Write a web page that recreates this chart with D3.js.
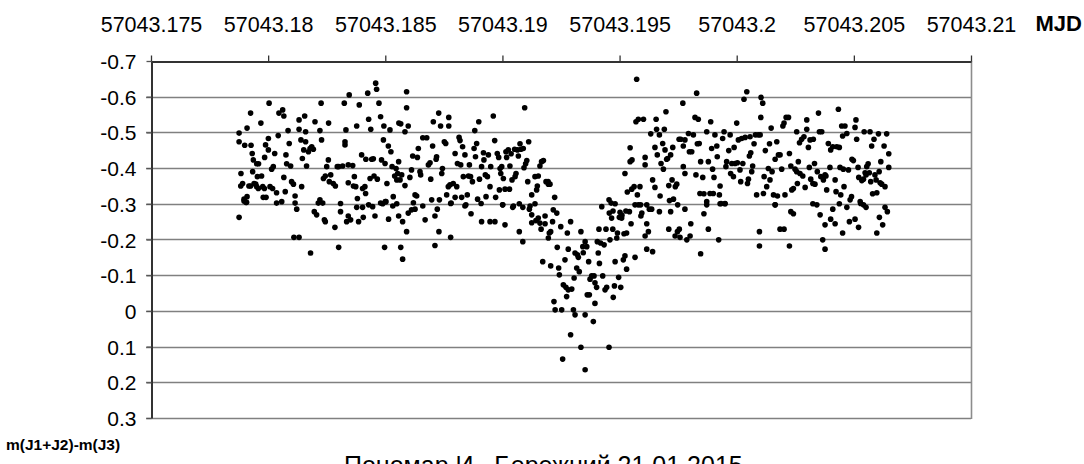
<!DOCTYPE html>
<html>
<head>
<meta charset="utf-8">
<script src="https://cdn.jsdelivr.net/npm/d3@7"></script>
<style>
  html, body { margin: 0; padding: 0; background: #fff; overflow: hidden; }
  svg { display: block; font-family: "Liberation Sans", Arial, sans-serif; }
</style>
</head>
<body>
<svg id="chart" width="1084" height="464"></svg>
<script>
// Differential photometry, night of 21.01.2015
const MJD_BASE = 57043;

const xTicks = [57043.175, 57043.18, 57043.185, 57043.19, 57043.195, 57043.2, 57043.205, 57043.21];
const xTickLabels = ["57043.175", "57043.18", "57043.185", "57043.19", "57043.195", "57043.2", "57043.205", "57043.21"];
const yTicks = [-0.7, -0.6, -0.5, -0.4, -0.3, -0.2, -0.1, 0, 0.1, 0.2, 0.3];
const yTickLabels = ["-0.7", "-0.6", "-0.5", "-0.4", "-0.3", "-0.2", "-0.1", "0", "0.1", "0.2", "0.3"];

const xTitle = "MJD";
const yTitle = "m(J1+J2)-m(J3)";
const footer = "Пономар И., Бережний 21.01.2015";

// [MJD - 57043, m(J1+J2)-m(J3)]
const observations = [
  [.17876,-.498],[.17876,-.474],[.17884,-.385],[.17883,-.350],[.17891,-.357],[.17897,-.313],[.17905,-.304],[.17910,-.320],
  [.17900,-.464],[.17910,-.512],[.17925,-.554],[.17927,-.464],[.17932,-.441],[.17937,-.423],[.17934,-.390],[.17918,-.350],
  [.17925,-.350],[.17940,-.357],[.17947,-.355],[.17951,-.348],[.17958,-.343],[.17954,-.376],[.17951,-.412],[.17959,-.412],
  [.17969,-.526],[.17972,-.378],[.17977,-.348],[.17984,-.343],[.17985,-.430],[.17991,-.318],[.17979,-.318],[.18004,-.582],
  [.18001,-.483],[.18001,-.451],[.17989,-.465],[.18008,-.348],[.18015,-.397],[.18022,-.404],[.18019,-.343],[.18028,-.441],
  [.18036,-.331],[.18043,-.491],[.18046,-.554],[.18062,-.563],[.18067,-.546],[.18067,-.374],[.18073,-.334],[.18076,-.437],
  [.18079,-.412],[.18085,-.505],[.18090,-.469],[.18096,-.406],[.18100,-.362],[.18108,-.355],[.18115,-.322],[.18132,-.535],
  [.18132,-.509],[.18140,-.479],[.18143,-.348],[.18146,-.427],[.18152,-.451],[.18156,-.546],[.18160,-.502],[.18160,-.474],
  [.18164,-.406],[.18172,-.446],[.18179,-.455],[.18186,-.460],[.18193,-.453],[.18200,-.530],[.18221,-.311],[.18226,-.582],
  [.18221,-.505],[.18228,-.479],[.18236,-.371],[.18244,-.378],[.18250,-.404],[.18257,-.423],[.18258,-.526],[.18261,-.362],
  [.18267,-.381],[.18278,-.357],[.18287,-.350],[.18295,-.404],[.18301,-.404],[.18309,-.301],[.18318,-.406],[.18325,-.582],
  [.18328,-.474],[.18328,-.465],[.18332,-.507],[.18342,-.359],[.18342,-.409],[.18346,-.605],[.18361,-.407],[.18364,-.350],
  [.18368,-.376],[.18374,-.348],[.18378,-.518],[.18381,-.315],[.18389,-.577],[.18399,-.437],[.18403,-.343],[.18413,-.348],
  [.18416,-.329],[.18417,-.425],[.18425,-.610],[.18429,-.537],[.18435,-.371],[.18438,-.509],[.18442,-.425],[.18449,-.426],
  [.18452,-.378],[.18459,-.638],[.18463,-.621],[.18466,-.369],[.18473,-.582],[.18480,-.544],[.18484,-.423],[.18489,-.300],
  [.18492,-.479],[.18494,-.518],[.18499,-.413],[.18503,-.306],[.18507,-.357],[.18513,-.462],[.18520,-.507],[.18524,-.446],
  [.18529,-.404],[.18534,-.320],[.18540,-.378],[.18546,-.399],[.18549,-.367],[.18553,-.385],[.18557,-.418],[.18558,-.526],
  [.17876,-.262],[.17897,-.308],[.17908,-.304],[.18036,-.302],[.18058,-.306],[.18115,-.302],[.18122,-.285],[.18110,-.206],
  [.18132,-.206],[.18181,-.162],[.18197,-.278],[.18207,-.269],[.18214,-.302],[.18233,-.302],[.18240,-.255],[.18244,-.250],
  [.18285,-.234],[.18301,-.178],[.18309,-.278],[.18335,-.250],[.18342,-.266],[.18352,-.255],[.18378,-.290],[.18386,-.250],
  [.18403,-.290],[.18406,-.262],[.18429,-.297],[.18446,-.292],[.18456,-.266],[.18480,-.302],[.18497,-.178],[.18500,-.306],
  [.18514,-.257],[.18532,-.294],[.18549,-.300],[.18557,-.266],[.18566,-.178],[.18574,-.145],[.18574,-.250],[.18591,-.222],
  [.18598,-.274],[.18612,-.283],[.18627,-.285],[.18660,-.294],[.18670,-.255],[.18712,-.266],[.18712,-.183],[.18722,-.285],
  [.18729,-.222],[.18779,-.206],[.18781,-.302],[.18840,-.294],[.18866,-.272],
  [.18566,-.524],[.18584,-.502],[.18591,-.614],[.18591,-.569],[.18598,-.518],[.18563,-.367],[.18570,-.381],[.18584,-.351],
  [.18605,-.374],[.18612,-.395],[.18617,-.434],[.18620,-.303],[.18627,-.325],[.18634,-.322],[.18637,-.430],[.18641,-.455],
  [.18648,-.390],[.18651,-.381],[.18660,-.485],[.18677,-.485],[.18684,-.409],[.18691,-.415],[.18694,-.369],[.18698,-.311],
  [.18702,-.462],[.18705,-.530],[.18717,-.425],[.18719,-.432],[.18728,-.554],[.18731,-.311],[.18736,-.518],[.18741,-.385],
  [.18744,-.399],[.18752,-.474],[.18758,-.469],[.18762,-.325],[.18769,-.348],[.18771,-.542],[.18771,-.518],[.18776,-.353],
  [.18779,-.301],[.18790,-.357],[.18798,-.441],[.18798,-.318],[.18805,-.348],[.18808,-.413],[.18815,-.486],[.18819,-.477],
  [.18822,-.409],[.18826,-.318],[.18830,-.460],[.18833,-.376],[.18840,-.437],[.18844,-.297],[.18850,-.325],[.18855,-.378],
  [.18859,-.409],[.18864,-.376],[.18872,-.362],[.18879,-.455],[.18882,-.505],[.18885,-.432],[.18890,-.469],[.18894,-.313],
  [.18899,-.530],[.18902,-.369],[.18909,-.301],[.18911,-.404],[.18919,-.443],[.18921,-.423],[.18927,-.381],[.18930,-.320],
  [.18936,-.376],[.18940,-.437],[.18947,-.348],[.18950,-.404],[.18961,-.546],[.18967,-.477],[.18971,-.318],[.18978,-.441],
  [.18984,-.430],[.18987,-.339],[.18990,-.399],[.18993,-.385],[.18997,-.404],[.19001,-.297],[.19004,-.371],[.19011,-.341],
  [.19015,-.446],[.19018,-.430],[.19025,-.451],[.19030,-.341],[.19032,-.406],[.19037,-.440],[.19041,-.367],[.19047,-.294],
  [.19052,-.453],[.19054,-.376],[.19058,-.385],[.19064,-.451],[.19068,-.434],[.19075,-.468],[.19079,-.453],[.19089,-.455],
  [.19092,-.401],[.19095,-.569],[.19099,-.412],[.19104,-.421],[.19108,-.362],[.19112,-.474],[.19118,-.294],[.19125,-.325],
  [.19139,-.376],[.19146,-.339],[.19149,-.350],[.19153,-.378],[.19160,-.406],[.19167,-.418],[.19175,-.421],[.19186,-.362],
  [.19195,-.362],[.19196,-.355],[.19203,-.355],[.19223,-.318],
  [.19523,-.385],[.19533,-.333],[.19545,-.457],[.19545,-.418],[.19553,-.423],[.19552,-.341],[.19562,-.348],[.19570,-.530],
  [.19573,-.649],[.19576,-.325],[.19580,-.537],[.19587,-.348],[.19590,-.297],[.19602,-.537],[.19609,-.430],[.19609,-.409],
  [.19616,-.297],[.19633,-.496],[.19641,-.367],[.19651,-.346],[.19651,-.458],[.19656,-.537],[.19658,-.509],[.19661,-.437],
  [.19670,-.493],[.19673,-.322],[.19677,-.413],[.19684,-.469],[.19687,-.397],[.19691,-.509],[.19694,-.451],[.19698,-.558],
  [.19701,-.425],[.19705,-.427],[.19710,-.351],[.19713,-.309],[.19718,-.437],[.19724,-.367],[.19727,-.458],[.19730,-.313],
  [.19738,-.348],[.19744,-.355],[.19748,-.297],[.19754,-.481],
  [.19770,-.582],[.19761,-.481],[.19772,-.462],[.19779,-.479],[.19772,-.404],[.19779,-.385],[.19794,-.497],[.19798,-.446],
  [.19808,-.446],[.19815,-.493],[.19822,-.542],[.19826,-.381],[.19829,-.610],[.19832,-.468],[.19836,-.537],[.19840,-.469],
  [.19843,-.329],[.19846,-.418],[.19855,-.374],[.19860,-.328],[.19872,-.502],[.19872,-.306],[.19879,-.418],[.19886,-.329],
  [.19889,-.530],[.19893,-.455],[.19897,-.397],[.19900,-.329],[.19903,-.374],[.19907,-.493],[.19915,-.462],[.19917,-.432],
  [.19926,-.325],[.19929,-.350],[.19933,-.301],[.19940,-.483],[.19946,-.502],[.19950,-.301],[.19954,-.404],[.19957,-.418],
  [.19966,-.449],[.19972,-.493],[.19974,-.385],[.19979,-.413],[.19986,-.376],[.19989,-.458],[.19993,-.413],[.20000,-.526],
  [.20003,-.415],[.20007,-.479],[.20014,-.395],[.20017,-.362],[.20021,-.483],[.20026,-.413],[.20031,-.593],[.20036,-.486],
  [.20043,-.614],[.20046,-.357],[.20050,-.369],[.20054,-.434],[.20057,-.488],[.20060,-.443],[.20064,-.390],[.20068,-.406],
  [.20074,-.468],[.20080,-.493],[.20085,-.325],[.20092,-.493],[.20100,-.493],[.20103,-.542],[.20104,-.598],[.20111,-.582],
  [.20114,-.329],[.20117,-.376],[.20122,-.449],[.20128,-.348],[.20135,-.399],[.20140,-.468],[.20142,-.367],[.20147,-.512],
  [.20151,-.390],[.20157,-.325],[.20164,-.297],[.20164,-.425],[.20171,-.474],[.20174,-.322],[.20178,-.437],[.20185,-.437],
  [.20192,-.397],[.20197,-.518],[.20202,-.526],[.20206,-.325],[.20211,-.542],[.20221,-.542],[.20225,-.441],[.20231,-.406],
  [.20235,-.339],[.20242,-.343],[.20249,-.397],[.20256,-.390],[.20256,-.502],[.20259,-.357],[.20263,-.418],[.20268,-.471],
  [.20270,-.385],[.20277,-.481],[.20282,-.378],[.20287,-.488],[.20292,-.346],[.20299,-.535],[.20299,-.509],[.20306,-.458],
  [.20310,-.402],[.20313,-.479],[.20316,-.369],[.20325,-.357],[.20327,-.481],[.20332,-.413],[.20334,-.355],[.20344,-.390],
  [.20349,-.554],[.20353,-.502],[.20359,-.376],[.20363,-.502],[.20370,-.367],[.20377,-.381],[.20381,-.378],[.20384,-.339],
  [.20391,-.469],[.20398,-.402],[.20401,-.451],[.20410,-.460],[.20420,-.367],[.20424,-.334],[.20427,-.460],[.20434,-.565],
  [.20438,-.458],[.20441,-.402],[.20444,-.325],[.20448,-.518],[.20452,-.490],[.20455,-.397],[.20458,-.348],[.20462,-.518],
  [.20470,-.497],[.20477,-.395],[.20484,-.311],[.20490,-.320],[.20492,-.425],[.20498,-.421],[.20505,-.514],[.20509,-.535],
  [.20512,-.481],[.20518,-.402],[.20521,-.374],[.20527,-.306],[.20529,-.301],[.20534,-.365],[.20541,-.369],[.20544,-.502],
  [.20548,-.387],[.20552,-.381],[.20555,-.404],[.20561,-.412],[.20566,-.387],[.20569,-.502],[.20572,-.362],[.20576,-.462],
  [.20580,-.328],[.20586,-.481],[.20590,-.381],[.20595,-.367],[.20598,-.331],[.20605,-.496],[.20608,-.390],[.20612,-.359],
  [.20615,-.418],[.20619,-.355],[.20629,-.462],[.20633,-.348],[.20640,-.496],[.20649,-.440],[.20649,-.402],
  [.18911,-.250],[.18947,-.250],[.18968,-.250],[.19001,-.297],[.19011,-.241],[.19044,-.290],[.19072,-.300],[.19072,-.222],
  [.19087,-.290],[.19087,-.194],[.19115,-.285],[.19125,-.269],[.19125,-.247],[.19139,-.300],[.19143,-.253],[.19153,-.260],
  [.19160,-.246],[.19165,-.229],[.19172,-.138],[.19182,-.266],[.19182,-.244],[.19196,-.204],[.19200,-.218],[.19206,-.222],
  [.19206,-.126],[.19214,-.250],[.19217,-.283],[.19220,-.026],[.19225,-.003],[.19232,-.274],[.19234,-.178],[.19240,-.120],
  [.19243,-.101],[.19249,-.236],[.19253,-.003],[.19257,.135],[.19260,-.073],[.19267,-.143],[.19271,-.066],[.19274,-.040],
  [.19277,-.218],[.19281,-.173],[.19281,-.059],[.19291,-.250],[.19291,.067],[.19296,-.061],[.19303,-.003],[.19306,-.092],
  [.19310,-.162],[.19310,.011],[.19317,-.120],[.19320,-.157],[.19324,-.150],[.19328,-.110],[.19335,-.222],[.19335,.102],
  [.19343,-.180],[.19345,-.163],[.19353,.011],[.19353,-.194],[.19353,.165],[.19360,-.180],[.19362,-.045],[.19368,-.138],
  [.19371,-.045],[.19374,-.089],[.19381,-.098],[.19388,.030],[.19391,-.098],[.19395,-.079],[.19395,-.021],[.19402,-.066],
  [.19405,-.194],[.19409,-.162],[.19412,-.229],[.19414,-.133],[.19419,-.190],[.19424,-.292],[.19428,-.098],[.19434,-.185],
  [.19438,-.059],[.19442,-.229],[.19445,-.066],[.19455,.102],[.19456,-.274],[.19459,-.199],[.19466,-.260],[.19471,-.229],
  [.19473,-.038],[.19478,-.070],[.19481,-.138],[.19481,-.300],[.19488,-.204],[.19491,-.218],[.19496,-.094],[.19499,-.262],
  [.19505,-.066],[.19509,-.260],[.19516,-.143],[.19519,-.216],[.19523,-.154],[.19530,-.218],[.19530,-.117],[.19542,-.278],
  [.19549,-.244],[.19566,-.150],[.19566,-.297],[.19580,-.297],[.19591,-.266],[.19595,-.274],[.19609,-.210],[.19616,-.244],
  [.19616,-.173],[.19623,-.222],[.19627,-.285],[.19637,-.285],[.19641,-.166],[.19670,-.278],[.19710,-.229],[.19718,-.278],
  [.19737,-.210],[.19747,-.222],[.19755,-.229],[.19758,-.206],[.19779,-.285],[.19787,-.199],[.19801,-.210],[.19804,-.244],
  [.19846,-.160],[.19860,-.272],[.19872,-.297],[.19879,-.229],[.19923,-.199],[.19929,-.300],[.19950,-.300],[.20097,-.222],
  [.20097,-.182],[.20164,-.297],[.20185,-.229],[.20202,-.229],[.20225,-.182],[.20231,-.278],[.20242,-.272],[.20325,-.300],
  [.20342,-.297],[.20356,-.269],[.20367,-.199],[.20377,-.241],[.20377,-.173],[.20401,-.257],[.20410,-.285],[.20420,-.244],
  [.20438,-.300],[.20452,-.218],[.20470,-.290],[.20481,-.250],[.20505,-.257],[.20520,-.234],[.20541,-.297],[.20552,-.290],
  [.20598,-.218],[.20609,-.262],[.20623,-.241],[.20633,-.290],[.20643,-.278],
  [.19455,-.311],[.19464,-.302],[.19472,-.280],[.19502,-.276],[.19510,-.268],[.19527,-.280]
];

const svg = d3.select("#chart");
const plot = { left: 151, right: 971, top: 61, bottom: 418 };

const x = d3.scaleLinear()
  .domain([xTicks[0], xTicks[xTicks.length - 1]])
  .range([plot.left, plot.right]);
const y = d3.scaleLinear()
  .domain([yTicks[0], yTicks[yTicks.length - 1]])
  .range([plot.top, plot.bottom]);

// horizontal gridlines (also serve as outward tick marks on the left)
svg.append("g")
  .selectAll("line")
  .data(yTicks.slice(1))
  .join("line")
  .attr("x1", plot.left - 5)
  .attr("x2", plot.right)
  .attr("y1", d => Math.round(y(d)) + 0.5)
  .attr("y2", d => Math.round(y(d)) + 0.5)
  .attr("stroke", "#808080")
  .attr("stroke-width", 1.6);

// right border
svg.append("line")
  .attr("x1", plot.right + 0.5).attr("x2", plot.right + 0.5)
  .attr("y1", plot.top).attr("y2", plot.bottom + 1)
  .attr("stroke", "#8c8c8c").attr("stroke-width", 1.6);

// top (MJD) axis
const xAxis = d3.axisTop(x)
  .tickValues(xTicks)
  .tickSize(6)
  .tickSizeOuter(0)
  .tickFormat((d, i) => xTickLabels[i]);
const gx = svg.append("g")
  .attr("transform", `translate(0,${plot.top + 0.5})`)
  .call(xAxis);
gx.select(".domain").attr("stroke", "#333").attr("stroke-width", 2);
gx.selectAll(".tick line").attr("stroke", "#333").attr("stroke-width", 1.3);
gx.selectAll(".tick text")
  .attr("y", -30).attr("dy", 0)
  .attr("font-size", 21.5).attr("fill", "#000")
  .attr("font-family", "Liberation Sans, Arial, sans-serif");

// left (magnitude) axis
const yAxis = d3.axisLeft(y)
  .tickValues(yTicks)
  .tickSize(5)
  .tickSizeOuter(0)
  .tickFormat((d, i) => yTickLabels[i]);
const gy = svg.append("g")
  .attr("transform", `translate(${plot.left + 0.5},0)`)
  .call(yAxis);
gy.select(".domain").attr("stroke", "#333").attr("stroke-width", 2);
gy.selectAll(".tick line").attr("stroke", "#555").attr("stroke-width", 1.3);
gy.selectAll(".tick text")
  .attr("x", -15).attr("dy", "0.36em")
  .attr("font-size", 21).attr("fill", "#000")
  .attr("font-family", "Liberation Sans, Arial, sans-serif");

// observations
svg.append("g")
  .selectAll("circle")
  .data(observations)
  .join("circle")
  .attr("cx", d => x(MJD_BASE + d[0]))
  .attr("cy", d => y(d[1]))
  .attr("r", 2.8)
  .attr("fill", "#000");

// titles
svg.append("text")
  .attr("x", 1082).attr("y", 31)
  .attr("text-anchor", "end")
  .attr("font-size", 22).attr("font-weight", "bold")
  .text(xTitle);

svg.append("text")
  .attr("x", 6).attr("y", 450)
  .attr("font-size", 15.5).attr("font-weight", "bold")
  .text(yTitle);

svg.append("text")
  .attr("x", 344).attr("y", 474)
  .attr("font-size", 25)
  .text(footer);
</script>
</body>
</html>
